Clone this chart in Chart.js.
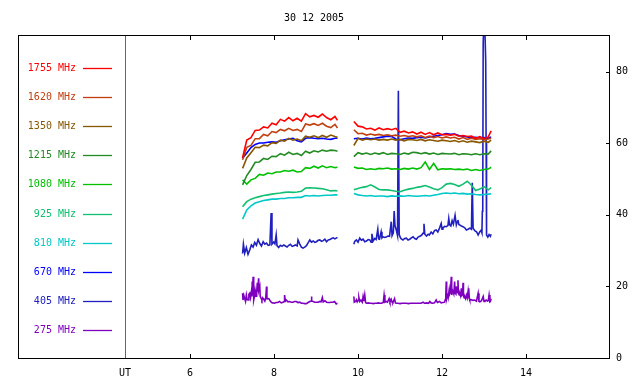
<!DOCTYPE html>
<html>
<head>
<meta charset="utf-8">
<title>30 12 2005</title>
<script src="https://cdn.jsdelivr.net/npm/chart.js@4.4.1/dist/chart.umd.min.js"></script>
<style>
  html, body { margin: 0; padding: 0; background: #fff; }
  #wrap { width: 640px; height: 384px; }
</style>
</head>
<body>
<div id="wrap"><canvas id="chartRadio" width="640" height="384"></canvas></div>
<script>
// Radio flux, 30 12 2005 (UT hours)
const chartTitle = "30 12 2005";
const xTickValues = [4.45, 6, 8, 10, 12, 14]; // 4.45 = left edge, labelled "UT"
const yTickValues = [0, 20, 40, 60, 80];

const freqLabels = ["1755 MHz", "1620 MHz", "1350 MHz", "1215 MHz", "1080 MHz",
	"925 MHz", "810 MHz", "670 MHz", "405 MHz", "275 MHz"];
const seriesColors = ["#ff0000", "#c04010", "#885800", "#228b22", "#00c000",
	"#10c070", "#00c8c8", "#0000ff", "#2020c0", "#8000c0"];

// common time base for the smoother channels (null at 9.7 = data gap)
const timesA = [
	7.25, 7.35, 7.45, 7.55, 7.65, 7.75, 7.85, 7.95, 8.05, 8.15, 8.25, 8.35,
	8.45, 8.55, 8.65, 8.75, 8.85, 8.95, 9.05, 9.15, 9.25, 9.35, 9.45, 9.51,
	9.7,
	9.9, 10.0, 10.1, 10.2, 10.3, 10.4, 10.5, 10.6, 10.7, 10.8, 10.9, 11.0,
	11.1, 11.2, 11.3, 11.4, 11.5, 11.6, 11.7, 11.8, 11.9, 12.0, 12.1, 12.2,
	12.3, 12.4, 12.5, 12.6, 12.7, 12.8, 12.9, 13.0, 13.1, 13.17
];

const f1755 = [
	56.0, 60.9, 61.6, 63.6, 63.7, 64.6, 64.3, 65.6, 65.2, 66.7, 66.2, 67.2,
	66.3, 67.0, 66.2, 68.3, 67.4, 67.8, 67.3, 68.2, 67.2, 66.6, 67.5, 66.4,
	null,
	66.1, 64.8, 64.6, 64.0, 64.2, 63.7, 64.3, 63.8, 64.1, 63.8, 64.2, 63.1,
	63.4, 62.9, 63.2, 62.6, 63.1, 62.5, 63.0, 62.4, 62.9, 62.4, 62.5, 62.3,
	62.5, 62.0, 62.2, 61.9, 62.0, 61.4, 61.9, 61.3, 61.8, 63.5
];
const f1620 = [
	55.4, 58.9, 59.4, 61.3, 61.3, 62.5, 62.1, 63.3, 63.0, 63.9, 63.5, 64.2,
	63.6, 63.9, 63.3, 65.4, 65.1, 65.5, 65.0, 65.6, 64.8, 64.4, 65.3, 64.3,
	null,
	63.8, 62.7, 62.8, 62.3, 62.6, 62.3, 62.5, 62.2, 62.4, 62.1, 62.3, 62.0,
	62.2, 61.9, 62.1, 61.8, 62.1, 61.6, 62.0, 61.6, 61.9, 61.5, 61.8, 61.5,
	61.7, 61.2, 61.6, 61.1, 61.4, 61.1, 61.3, 61.0, 61.2, 61.4
];
const f1350 = [
	53.0, 55.9, 57.4, 58.9, 58.8, 59.5, 59.3, 60.2, 60.0, 60.9, 60.6, 61.4,
	60.9, 61.2, 60.7, 62.0, 61.7, 62.1, 61.6, 62.2, 61.7, 62.3, 61.9, 61.7,
	null,
	59.4, 61.4, 60.9, 61.2, 61.0, 61.2, 60.9, 61.1, 60.9, 61.2, 60.9, 61.1,
	60.7, 61.1, 61.0, 60.8, 61.1, 60.7, 61.0, 60.8, 60.6, 60.9, 60.7, 60.5,
	60.8, 60.4, 60.7, 60.3, 60.6, 60.4, 60.2, 60.6, 60.3, 60.9
];
const f1215 = [
	48.4, 51.0, 52.7, 54.7, 54.8, 55.8, 55.5, 56.4, 56.3, 57.1, 56.7, 57.5,
	56.9, 57.2, 56.6, 57.8, 57.3, 57.9, 57.6, 58.1, 57.8, 58.1, 58.0, 57.8,
	null,
	56.3, 57.4, 57.0, 57.3, 56.9, 57.3, 57.0, 57.4, 56.9, 57.2, 57.1, 56.9,
	57.3, 57.0, 57.5, 57.4, 57.1, 57.4, 57.0, 57.3, 56.9, 57.2, 57.1, 57.0,
	57.2, 56.8, 57.1, 57.0, 56.8, 57.1, 56.8, 57.1, 57.0, 57.9
];
const f1080 = [
	49.8, 48.6, 49.8, 50.2, 51.3, 51.1, 51.7, 51.5, 52.0, 52.0, 52.4, 52.2,
	52.5, 52.0, 52.1, 53.2, 53.0, 53.6, 53.1, 53.7, 53.2, 53.5, 53.2, 53.3,
	null,
	53.4, 53.0, 53.1, 52.7, 52.9, 52.7, 53.0, 52.9, 53.1, 52.8, 52.9, 52.7,
	53.0, 52.8, 53.1, 52.8, 53.2, 54.8, 52.7, 54.4, 52.6, 52.9, 52.8, 52.9,
	52.7, 52.8, 52.6, 52.8, 52.4, 52.7, 52.4, 52.7, 52.8, 53.3
];
const f925 = [
	42.3, 43.7, 44.4, 44.8, 45.1, 45.4, 45.6, 45.8, 46.0, 46.1, 46.3, 46.4,
	46.3, 46.4, 46.6, 47.5, 47.6, 47.5, 47.4, 47.3, 47.0, 46.7, 46.8, 46.7,
	null,
	47.0, 47.4, 47.7, 47.9, 48.4, 47.8, 47.1, 47.0, 47.0, 46.8, 46.6, 46.5,
	46.9, 47.2, 47.4, 47.7, 47.9, 48.2, 47.8, 47.3, 47.0, 47.6, 48.6, 48.8,
	48.5, 48.0, 48.6, 49.4, 48.3, 46.8, 47.2, 47.9, 47.0, 47.6
];
const f810 = [
	38.8, 41.4, 42.5, 43.3, 43.7, 44.0, 44.2, 44.4, 44.4, 44.6, 44.6, 44.8,
	44.8, 44.9, 44.9, 45.4, 45.3, 45.4, 45.3, 45.4, 45.5, 45.5, 45.6, 45.6,
	null,
	46.0, 45.6, 45.4, 45.3, 45.4, 45.2, 45.3, 45.3, 45.1, 45.3, 45.2, 45.3,
	45.2, 45.4, 45.3, 45.2, 45.3, 45.4, 45.3, 45.5, 45.7, 46.0, 46.1, 46.0,
	46.1, 45.9, 46.0, 45.8, 45.9, 45.7, 45.6, 45.7, 45.8, 45.9
];
const f670 = [
	55.8, 57.3, 58.8, 59.7, 60.1, 60.1, 60.3, 60.4, 60.3, 60.7, 61.0, 61.2,
	61.4, 60.7, 60.4, 61.4, 61.6, 61.4, 61.3, 61.4, 61.2, 61.1, 61.4, 61.4,
	null,
	61.3, 61.4, 61.2, 61.5, 61.3, 61.4, 61.6, 61.8, 62.0, 61.9, 61.2, 61.0,
	61.3, 61.5, 61.4, 61.6, 61.7, 61.5, 61.8, 62.0, 62.2, 62.4, 62.7, 62.5,
	62.6, 62.2, 62.0, 61.8, 61.6, 61.7, 61.5, 61.6, 61.4, 61.8
];

// 405 MHz: own, finer time base (spiky)
const t405 = [
	7.25, 7.27, 7.30, 7.34, 7.38, 7.42, 7.46, 7.50, 7.54, 7.58, 7.62, 7.66,
	7.70, 7.74, 7.78, 7.82, 7.86, 7.90, 7.93, 7.95, 7.99, 8.02, 8.05, 8.07,
	8.11, 8.15, 8.19, 8.23, 8.27, 8.31, 8.35, 8.39, 8.43, 8.47, 8.51, 8.55,
	8.57, 8.61, 8.65, 8.69, 8.73, 8.77, 8.81, 8.85, 8.89, 8.93, 8.97, 9.01,
	9.05, 9.09, 9.13, 9.17, 9.21, 9.25, 9.29, 9.33, 9.37, 9.41, 9.45, 9.51,
	9.7,
	9.90, 9.92, 9.96, 10.00, 10.04, 10.08, 10.12, 10.16, 10.20, 10.24,
	10.28, 10.31, 10.33, 10.36, 10.40, 10.43, 10.47, 10.49, 10.51, 10.55,
	10.57, 10.59, 10.63, 10.67, 10.71, 10.75, 10.79, 10.81, 10.84, 10.86,
	10.88, 10.91, 10.94, 10.96, 10.98, 11.01, 11.03, 11.07, 11.11, 11.15,
	11.19, 11.23, 11.27, 11.31, 11.35, 11.39, 11.43, 11.47, 11.51, 11.55,
	11.57, 11.59, 11.63, 11.67, 11.70, 11.74, 11.78, 11.82, 11.86, 11.90,
	11.94, 11.98, 12.00, 12.02, 12.06, 12.10, 12.14, 12.16, 12.18, 12.21,
	12.24, 12.27, 12.31, 12.34, 12.36, 12.38, 12.40, 12.42, 12.46, 12.50,
	12.54, 12.58, 12.62, 12.66, 12.70, 12.72, 12.74, 12.78, 12.82, 12.86,
	12.90, 12.93, 12.95, 12.96, 12.97, 12.98, 13.00, 13.02, 13.04, 13.05,
	13.06, 13.09, 13.12, 13.15, 13.17
];
const v405 = [
	29.2, 31.8, 29.3, 30.9, 29.0, 30.2, 31.6, 31.0, 32.3, 31.5, 33.1, 32.0,
	31.3, 32.5, 31.8, 32.1, 31.5, 31.6, 40.5, 31.8, 32.4, 31.9, 34.4, 31.4,
	30.9, 31.5, 31.2, 31.6, 31.3, 31.0, 31.5, 31.8, 31.2, 31.4, 31.6, 31.3,
	33.0, 31.9, 31.0, 30.7, 31.0, 31.4, 32.2, 33.0, 32.4, 32.7, 32.3, 32.5,
	32.9, 33.0, 32.6, 32.8, 33.2, 32.5, 33.0, 33.1, 33.4, 33.6, 33.3, 33.7,
	null,
	31.8, 32.6, 33.0, 32.4, 33.5, 32.9, 33.2, 32.5, 32.7, 33.1,
	33.0, 32.4, 34.7, 32.7, 33.4, 33.1, 36.0, 33.3, 33.2, 35.3,
	33.6, 33.9, 33.7, 33.8, 34.1, 34.0, 38.1, 34.2, 35.0, 41.1,
	37.0, 35.8, 34.2, 74.7, 34.5, 33.6, 33.3, 33.0, 33.4, 33.5,
	33.0, 33.2, 33.6, 33.9, 33.4, 33.2, 33.8, 34.0, 34.3, 34.9,
	37.5, 34.6, 34.1, 34.6, 34.4, 35.2, 34.7, 35.6, 35.8, 35.2,
	36.3, 37.6, 36.0, 36.3, 36.8, 36.7, 37.0, 39.0, 37.2, 36.9,
	38.4, 37.4, 39.9, 37.2, 38.0, 38.6, 37.3, 37.2, 36.9, 36.7,
	36.4, 35.8, 36.0, 36.3, 36.0, 49.0, 36.3, 35.6, 35.3, 34.4,
	35.3, 35.7, 35.0, 41.0, 44.5, 88.0, 96.0, 92.0, 83.0, 60.0,
	34.4, 33.8, 34.5, 34.0, 34.6
];

// 275 MHz: own, finer time base (bursts)
const t275 = [
	7.25, 7.26, 7.28, 7.30, 7.32, 7.34, 7.36, 7.38, 7.40, 7.42, 7.44, 7.46,
	7.47, 7.48, 7.49, 7.50, 7.51, 7.52, 7.54, 7.55, 7.57, 7.58, 7.59, 7.60,
	7.61, 7.62, 7.63, 7.64, 7.66, 7.67, 7.68, 7.70, 7.71, 7.73, 7.74, 7.76,
	7.78, 7.80, 7.82, 7.83, 7.84, 7.86, 7.88, 7.91, 7.94, 7.97, 8.01, 8.05,
	8.09, 8.13, 8.17, 8.21, 8.24, 8.25, 8.27, 8.29, 8.33, 8.37, 8.41, 8.45,
	8.49, 8.53, 8.57, 8.61, 8.65, 8.69, 8.73, 8.77, 8.81, 8.85, 8.88, 8.89,
	8.90, 8.93, 8.97, 9.01, 9.05, 9.09, 9.12, 9.15, 9.17, 9.21, 9.25, 9.29,
	9.32, 9.36, 9.40, 9.44, 9.48, 9.51,
	9.7,
	9.90, 9.91, 9.94, 9.96, 9.98, 10.00, 10.02, 10.04, 10.07, 10.10,
	10.12, 10.14, 10.16, 10.18, 10.20, 10.24, 10.28, 10.32, 10.36, 10.40,
	10.44, 10.48, 10.52, 10.56, 10.60, 10.62, 10.64, 10.67, 10.70, 10.74,
	10.76, 10.79, 10.81, 10.83, 10.87, 10.89, 10.91, 10.95, 11.00, 11.05,
	11.10, 11.15, 11.20, 11.25, 11.30, 11.35, 11.40, 11.45, 11.50, 11.55,
	11.58, 11.63, 11.68, 11.71, 11.74, 11.78, 11.82, 11.86, 11.89, 11.94,
	11.98, 12.02, 12.06, 12.08, 12.09, 12.10, 12.11, 12.13, 12.14, 12.15,
	12.17, 12.18, 12.20, 12.22, 12.23, 12.25, 12.26, 12.28, 12.30, 12.31,
	12.33, 12.34, 12.36, 12.38, 12.39, 12.41, 12.42, 12.44, 12.46, 12.47,
	12.49, 12.50, 12.51, 12.53, 12.54, 12.56, 12.58, 12.60, 12.62, 12.63,
	12.64, 12.65, 12.66, 12.70, 12.74, 12.78, 12.82, 12.86, 12.88, 12.90,
	12.94, 12.98, 13.00, 13.02, 13.05, 13.08, 13.10, 13.12, 13.14, 13.15,
	13.17
];
const v275 = [
	18.1, 16.2, 17.5, 16.6, 15.8, 17.6, 16.3, 16.2, 17.8, 18.1, 16.9, 18.6,
	17.2, 21.4, 17.5, 22.7, 17.0, 16.2, 17.6, 18.8, 17.3, 19.1, 18.0, 21.0,
	18.5, 20.2, 22.3, 18.9, 20.0, 17.2, 17.2, 16.5, 16.2, 16.8, 16.6, 16.3,
	15.9, 16.6, 20.0, 16.8, 16.5, 16.6, 16.5, 15.9, 15.5, 15.4, 15.3, 15.5,
	15.5, 15.8, 15.4, 15.6, 15.8, 17.6, 15.9, 16.2, 15.7, 15.8, 15.6, 15.6,
	15.8, 15.8, 15.5, 15.6, 15.3, 15.3, 15.2, 15.2, 15.5, 15.8, 15.9, 17.2,
	15.9, 15.8, 15.6, 15.6, 15.6, 15.8, 15.7, 16.9, 15.7, 16.0, 15.6, 15.5,
	15.5, 15.6, 15.6, 15.8, 15.1, 15.3,
	null,
	17.2, 15.6, 15.8, 16.3, 15.7, 16.1, 16.9, 15.8, 16.2, 15.6,
	17.2, 15.9, 17.6, 15.5, 15.3, 15.4, 15.3, 15.3, 15.2, 15.3,
	15.3, 15.4, 15.3, 15.3, 15.5, 17.6, 15.6, 15.8, 15.6, 16.6,
	15.7, 16.4, 15.6, 15.5, 16.6, 15.4, 15.3, 15.3, 15.2, 15.3,
	15.3, 15.3, 15.2, 15.3, 15.3, 15.3, 15.3, 15.3, 15.3, 15.6,
	15.3, 15.4, 15.3, 15.8, 15.4, 15.3, 15.4, 16.2, 15.5, 15.8,
	15.4, 15.5, 15.6, 16.4, 17.6, 21.4, 16.5, 17.4, 18.1, 17.2,
	19.0, 17.8, 18.4, 22.7, 17.6, 18.9, 18.6, 17.9, 21.4, 18.2,
	17.9, 20.0, 18.3, 21.7, 18.0, 17.6, 18.1, 17.4, 19.5, 17.5,
	17.8, 21.0, 17.3, 16.8, 17.2, 16.6, 17.6, 16.8, 18.6, 16.7,
	19.5, 16.6, 16.2, 16.3, 16.1, 16.2, 15.9, 18.1, 15.8, 15.7,
	16.0, 17.2, 15.8, 15.9, 16.2, 15.9, 16.0, 17.6, 15.7, 15.8,
	16.6
];

const monoFont = { family: "'DejaVu Sans Mono', 'Liberation Mono', monospace", size: 10 };
const fontCss = "10px 'DejaVu Sans Mono', 'Liberation Mono', monospace";

function pairs(xs, ys) {
	return xs.map((x, i) => ({ x: x, y: ys[i] }));
}

const seriesData = [
	pairs(timesA, f1755),
	pairs(timesA, f1620),
	pairs(timesA, f1350),
	pairs(timesA, f1215),
	pairs(timesA, f1080),
	pairs(timesA, f925),
	pairs(timesA, f810),
	pairs(timesA, f670),
	pairs(t405, v405),
	pairs(t275, v275),
];

// frame, inner ticks, title and the left-hand legend
const framePlugin = {
	id: "frame",
	afterDraw(chart) {
		const ctx = chart.ctx;
		const a = chart.chartArea;
		const sx = chart.scales.x;
		const sy = chart.scales.y;
		ctx.save();

		// grey separator at the left edge of the plot
		ctx.strokeStyle = "#666";
		ctx.lineWidth = 1;
		ctx.beginPath();
		ctx.moveTo(Math.round(a.left) + 0.5, a.top);
		ctx.lineTo(Math.round(a.left) + 0.5, a.bottom);
		ctx.stroke();

		// outer frame
		ctx.strokeStyle = "#000";
		ctx.strokeRect(18.5, Math.round(a.top) - 0.5, Math.round(a.right) - 19, Math.round(a.bottom - a.top) + 1);

		// inward tick marks
		ctx.beginPath();
		xTickValues.slice(1).forEach((v) => {
			const x = Math.round(sx.getPixelForValue(v)) + 0.5;
			ctx.moveTo(x, a.top);
			ctx.lineTo(x, a.top + 4);
			ctx.moveTo(x, a.bottom);
			ctx.lineTo(x, a.bottom - 4);
		});
		yTickValues.slice(1).forEach((v) => {
			const y = Math.round(sy.getPixelForValue(v)) + 0.5;
			ctx.moveTo(a.right - 4, y);
			ctx.lineTo(a.right, y);
		});
		ctx.stroke();

		// title
		ctx.font = fontCss;
		ctx.fillStyle = "#000";
		ctx.textAlign = "center";
		ctx.textBaseline = "middle";
		ctx.fillText(chartTitle, 314, 18);

		// legend
		ctx.textAlign = "right";
		freqLabels.forEach((lab, i) => {
			const y = Math.round(68 + i * 29.1);
			ctx.fillStyle = seriesColors[i];
			ctx.fillText(lab, 76, y);
			ctx.strokeStyle = seriesColors[i];
			ctx.lineWidth = 1.3;
			ctx.beginPath();
			ctx.moveTo(83, y + 0.5);
			ctx.lineTo(112, y + 0.5);
			ctx.stroke();
		});
		ctx.restore();
	},
};

new Chart(document.getElementById("chartRadio"), {
	type: "line",
	data: {
		datasets: seriesData.map((d, i) => ({
			label: freqLabels[i],
			data: d,
			borderColor: seriesColors[i],
			backgroundColor: seriesColors[i],
			borderWidth: 1.6,
			pointRadius: 0,
			tension: 0,
			spanGaps: false,
		})),
	},
	options: {
		responsive: false,
		animation: false,
		layout: { padding: { left: 125, top: 36, right: 0, bottom: 0 } },
		plugins: {
			legend: { display: false },
			tooltip: { enabled: false },
			title: { display: false },
		},
		scales: {
			x: {
				type: "linear",
				min: 4.45,
				max: 16,
				afterBuildTicks: (s) => { s.ticks = xTickValues.map((v) => ({ value: v })); },
				afterFit: (s) => { s.height = 26; },
				grid: { display: false, drawTicks: false },
				border: { display: false },
				ticks: {
					font: monoFont,
					color: "#000",
					padding: 9,
					maxRotation: 0,
					autoSkip: false,
					callback: (v) => (v === 4.45 ? "UT" : String(v)),
				},
			},
			y: {
				position: "right",
				min: 0,
				max: 90,
				afterBuildTicks: (s) => { s.ticks = yTickValues.map((v) => ({ value: v })); },
				afterFit: (s) => { s.width = 30; },
				grid: { display: false, drawTicks: false },
				border: { display: false },
				ticks: { font: monoFont, color: "#000", padding: 6 },
			},
		},
	},
	plugins: [framePlugin],
});
</script>
</body>
</html>
